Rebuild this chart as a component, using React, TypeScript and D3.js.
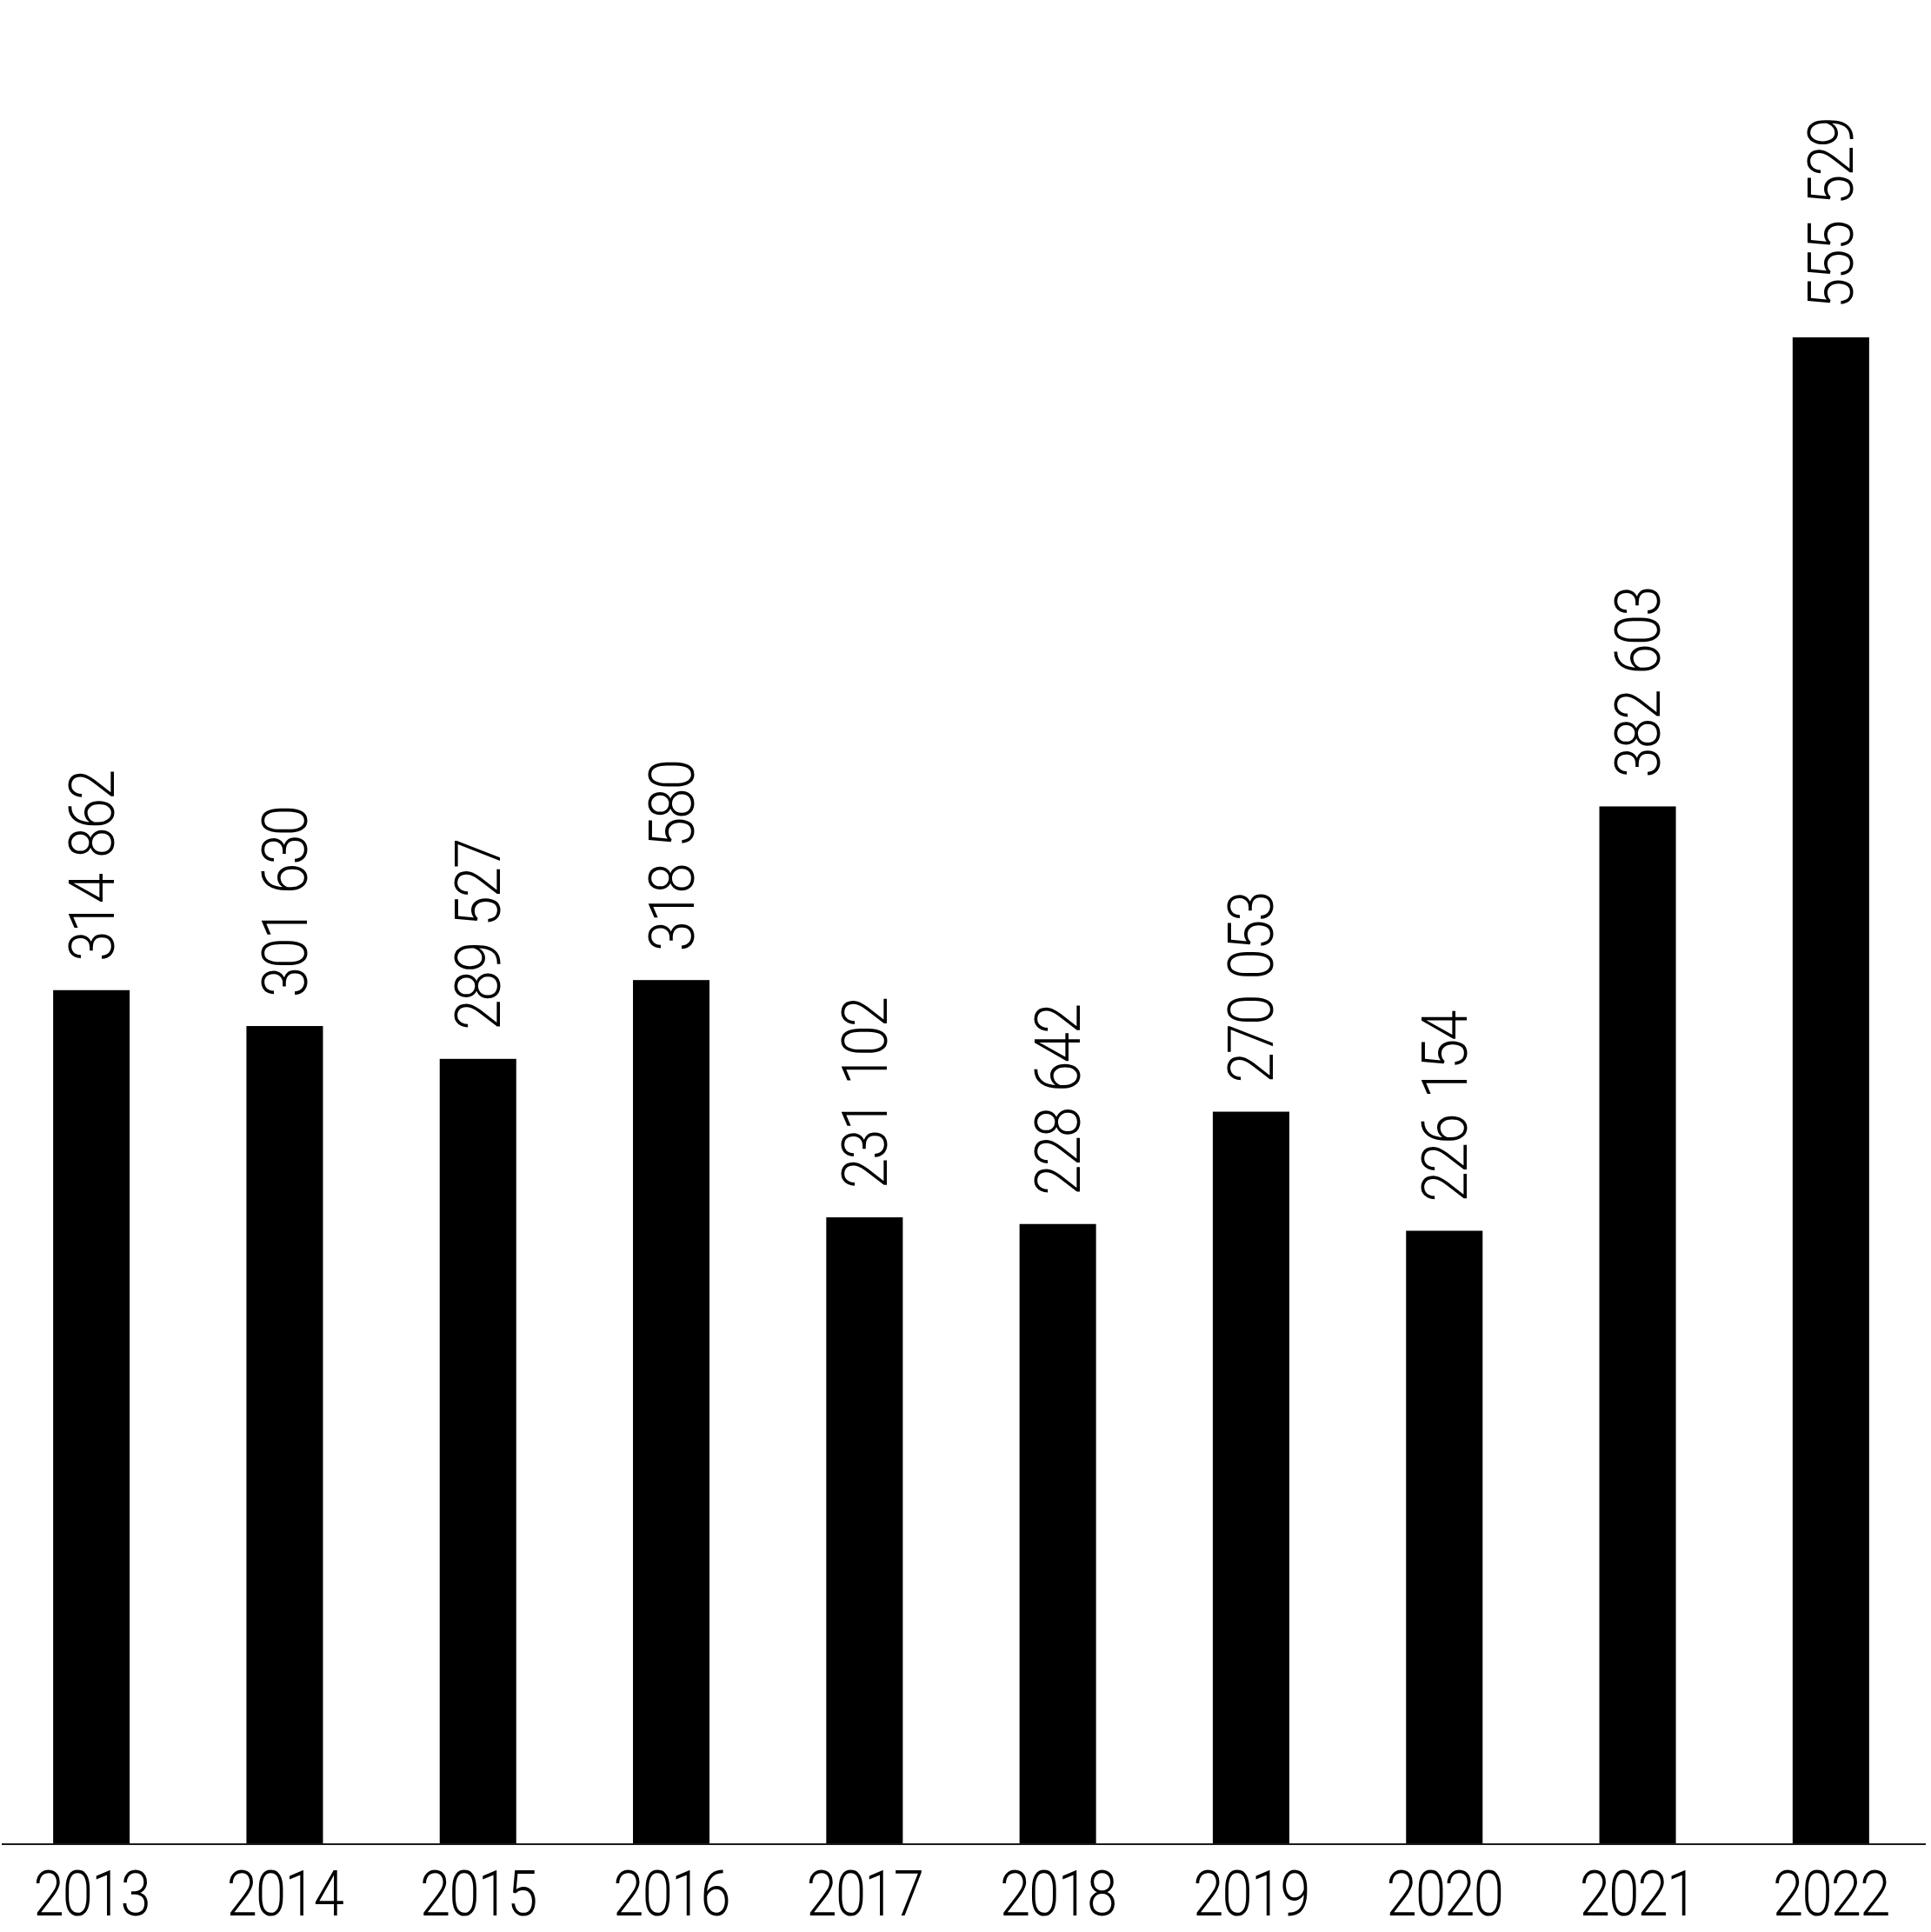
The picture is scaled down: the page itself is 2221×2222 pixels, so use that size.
import React from "react";
import * as d3 from "d3";

const years = ["2013", "2014", "2015", "2016", "2017", "2018", "2019", "2020", "2021", "2022"];
const values = [314862, 301630, 289527, 318580, 231102, 228642, 270053, 226154, 382603, 555529];

const W = 2221;
const H = 2222;
const baseY = 2121;
const topY = 388;
const FONT = "Roboto, Lato, 'Noto Sans', sans-serif";
const FS = 72;
const SX = 0.88;
const LS = -2;
const WS = 6;

const fmt = (v: number) => d3.format(",")(v).replace(/,/g, " ");

export default function App() {
  const x = d3
    .scaleBand<string>()
    .domain(years)
    .range([-6, 2217])
    .paddingInner(0.604)
    .paddingOuter(0.302);
  const y = d3.scaleLinear().domain([0, d3.max(values) as number]).range([baseY, topY]);
  const bw = x.bandwidth();

  return (
    <div style={{ position: "absolute", left: 0, top: 0, background: "#fff" }}>
      <svg width={W} height={H} viewBox={`0 0 ${W} ${H}`} style={{ display: "block" }}>
        <rect x={0} y={0} width={W} height={H} fill="#fff" />
        {years.map((yr, i) => {
          const x0 = x(yr) as number;
          const cx = x0 + bw / 2;
          const top = y(values[i]);
          return (
            <g key={yr}>
              <rect x={x0} y={top} width={bw} height={baseY - top} fill="#000" />
              <text
                transform={`translate(${cx + 25.5},${top - 33}) rotate(-90) scale(${SX},1)`}
                fontFamily={FONT}
                fontWeight={300}
                fontSize={FS}
                letterSpacing={LS}
                wordSpacing={WS}
                fill="#000"
                textAnchor="start"
              >
                {fmt(values[i])}
              </text>
              <text
                transform={`translate(${cx},2203) scale(${SX},1)`}
                fontFamily={FONT}
                fontWeight={300}
                fontSize={FS}
                letterSpacing={LS}
                fill="#000"
                textAnchor="middle"
              >
                {yr}
              </text>
            </g>
          );
        })}
        <line x1={2} x2={2215} y1={baseY} y2={baseY} stroke="#1a1a1a" strokeWidth={2} />
      </svg>
    </div>
  );
}
